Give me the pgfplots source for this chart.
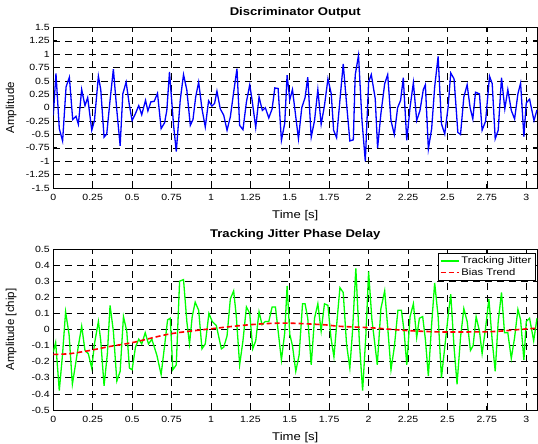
\documentclass[border=0pt]{standalone}
\usepackage{fontspec}
\setmainfont{Liberation Sans}[FakeStretch=1.17]
\newfontfamily\ylabfont{Liberation Sans}
\usepackage{pgfplots}
\pgfplotsset{compat=1.18}
\definecolor{mblue}{RGB}{0,0,255}
\definecolor{mgreen}{RGB}{0,255,0}
\definecolor{mred}{RGB}{255,0,0}
\pgfplotsset{
  mstyle/.style={
    scale only axis, width=484pt,
    xmin=0, xmax=3.07,
    xtick={0,0.25,0.5,0.75,1,1.25,1.5,1.75,2,2.25,2.5,2.75,3},
    xticklabels={0,0.25,0.5,0.75,1,1.25,1.5,1.75,2,2.25,2.5,2.75,3},
    tick align=inside, major tick length=4pt,
    xmajorgrids, ymajorgrids,
    grid style={black, line width=0.65pt, dash pattern=on 7pt off 5pt},
    axis line style={black, line width=0.9pt},
    every tick/.style={black, line width=0.8pt},
    /pgf/number format/assume math mode=true,
    ticklabel style={font=\fontsize{9}{10}\selectfont},
    xticklabel style={yshift=-3pt},
    title style={at={(axis description cs:0.5,1)}, anchor=base, yshift=6pt, font=\bfseries\fontsize{11.2}{13}\selectfont},
    every axis x label/.style={at={(axis description cs:0.5,0)}, anchor=center, yshift=-27.5pt, font=\fontsize{11.2}{13}\selectfont},
    every axis y label/.style={at={(axis description cs:-0.087,0.5)}, rotate=90, anchor=center, font=\ylabfont\fontsize{11.5}{13}\selectfont},
    xlabel={Time [s]},
  }
}
\begin{document}
\begin{tikzpicture}
\begin{axis}[mstyle, at={(0,0)}, anchor=south west, height=160.5pt,
  ymin=-1.5, ymax=1.5,
  ytick={-1.5,-1.25,-1,-0.75,-0.5,-0.25,0,0.25,0.5,0.75,1,1.25,1.5},
  yticklabels={-1.5,-1.25,-1,-0.75,-0.5,-0.25,0,0.25,0.5,0.75,1,1.25,1.5},
  title={Discriminator Output}, ylabel={Amplitude}]
\addplot[mblue, line width=1.3pt] coordinates {
(0.000,-0.14) (0.017,0.64) (0.038,-0.39) (0.059,-0.62) (0.081,0.39) (0.102,0.57)
(0.123,-0.22) (0.144,-0.16) (0.159,-0.31) (0.180,0.34) (0.201,0.04) (0.218,0.19)
(0.244,-0.42) (0.261,-0.24) (0.286,0.59) (0.301,0.34) (0.322,-0.55) (0.339,-0.49)
(0.360,0.14) (0.381,0.72) (0.403,-0.05) (0.424,-0.71) (0.441,0.26) (0.462,0.48)
(0.483,0.04) (0.500,-0.24) (0.521,-0.11) (0.542,0.04) (0.561,-0.13) (0.585,0.14)
(0.600,-0.06) (0.619,0.11) (0.640,0.12) (0.661,0.27) (0.684,-0.39) (0.706,-0.28)
(0.720,-0.05) (0.737,0.67) (0.763,-0.33) (0.780,-0.82) (0.805,0.14) (0.826,0.62)
(0.847,0.33) (0.869,-0.33) (0.886,-0.22) (0.903,0.20) (0.922,0.48) (0.943,-0.02)
(0.964,-0.36) (0.985,0.13) (1.006,0.03) (1.023,0.08) (1.038,0.31) (1.059,-0.02)
(1.081,-0.14) (1.102,-0.42) (1.123,-0.17) (1.144,0.29) (1.165,0.73) (1.182,-0.33)
(1.203,-0.41) (1.225,0.11) (1.246,0.43) (1.261,0.14) (1.284,-0.37) (1.305,0.20)
(1.326,-0.05) (1.345,0.00) (1.367,-0.19) (1.388,-0.02) (1.405,0.37) (1.426,0.36)
(1.447,-0.61) (1.468,-0.29) (1.483,0.61) (1.500,0.15) (1.517,0.34) (1.555,-0.58)
(1.576,0.00) (1.597,0.19) (1.614,0.57) (1.636,-0.55) (1.657,-0.24) (1.678,0.34)
(1.699,-0.31) (1.720,0.04) (1.742,0.54) (1.763,0.26) (1.778,-0.42) (1.797,-0.56)
(1.818,0.14) (1.839,0.82) (1.860,0.08) (1.881,-0.62) (1.903,-0.60) (1.915,0.61)
(1.936,0.98) (1.958,-0.24) (1.979,-1.00) (2.000,0.48) (2.017,0.62) (2.042,0.17)
(2.057,-0.75) (2.078,-0.11) (2.102,0.45) (2.121,0.62) (2.142,-0.24) (2.163,-0.50)
(2.184,0.00) (2.203,0.14) (2.220,0.56) (2.242,-0.61) (2.263,0.01) (2.284,0.47)
(2.305,-0.24) (2.326,-0.05) (2.347,0.34) (2.360,0.43) (2.379,-0.77) (2.400,-0.39)
(2.419,0.39) (2.441,0.96) (2.462,-0.30) (2.483,-0.49) (2.504,0.01) (2.521,0.65)
(2.542,0.54) (2.566,-0.46) (2.583,-0.50) (2.604,0.20) (2.625,0.43) (2.644,0.00)
(2.661,-0.21) (2.678,0.29) (2.703,0.26) (2.720,-0.42) (2.742,-0.25) (2.767,0.59)
(2.784,0.45) (2.803,-0.58) (2.822,-0.42) (2.843,0.56) (2.864,-0.02) (2.883,0.34)
(2.905,-0.05) (2.926,-0.21) (2.947,0.26) (2.964,0.46) (2.985,-0.54) (3.000,0.09)
(3.021,0.16) (3.049,-0.24) (3.068,-0.04)
};
\end{axis}
\begin{axis}[mstyle, at={(0,-222pt)}, anchor=south west, height=161pt,
  ymin=-0.5, ymax=0.5,
  ytick={-0.5,-0.4,-0.3,-0.2,-0.1,0,0.1,0.2,0.3,0.4,0.5},
  yticklabels={-0.5,-0.4,-0.3,-0.2,-0.1,0,0.1,0.2,0.3,0.4,0.5},
  title={Tracking Jitter Phase Delay}, ylabel={Amplitude [chip]},
  legend style={at={(rel axis cs:0.996,0.975)}, anchor=north east, draw=black, fill=white,
    line width=0.8pt, font=\fontsize{9.6}{11}\selectfont, inner sep=1.5pt, row sep=-1pt},
  legend cell align=left,
  legend entries={Tracking Jitter, Bias Trend}]
\addlegendimage{legend image code/.code={\draw[draw=mgreen, line width=1.4pt] (0pt,0pt) -- (18pt,0pt);}}
\addlegendimage{legend image code/.code={\draw[draw=mred, line width=1.6pt, dash pattern=on 5pt off 3pt] (0pt,0pt) -- (18pt,0pt);}}
\addplot[mgreen, line width=1.3pt, forget plot] coordinates {
(0.000,-0.14) (0.015,-0.08) (0.038,-0.38) (0.059,-0.15) (0.078,0.11) (0.100,-0.03)
(0.121,-0.34) (0.142,-0.21) (0.161,-0.09) (0.180,0.02) (0.201,-0.13) (0.222,-0.15)
(0.244,-0.24) (0.261,-0.09) (0.286,0.05) (0.301,-0.07) (0.322,-0.35) (0.343,-0.15)
(0.360,0.15) (0.381,-0.01) (0.403,-0.32) (0.424,-0.26) (0.445,0.08) (0.466,-0.01)
(0.483,-0.24) (0.500,-0.25) (0.521,-0.11) (0.542,-0.06) (0.561,-0.09) (0.583,-0.02)
(0.604,-0.09) (0.625,-0.06) (0.657,-0.16) (0.684,-0.28) (0.706,-0.10) (0.725,0.06)
(0.742,0.07) (0.758,-0.25) (0.780,-0.22) (0.801,0.30) (0.826,0.31) (0.847,0.05)
(0.864,-0.09) (0.881,0.08) (0.900,0.17) (0.922,0.12) (0.943,-0.12) (0.964,-0.09)
(0.987,0.10) (1.008,0.05) (1.034,0.025) (1.066,-0.12) (1.081,-0.11) (1.102,-0.04)
(1.123,0.19) (1.144,0.24) (1.161,0.08) (1.182,-0.22) (1.203,-0.07) (1.225,0.14)
(1.246,0.10) (1.265,-0.12) (1.284,-0.07) (1.305,0.11) (1.324,0.03) (1.345,0.05)
(1.367,0.05) (1.388,0.14) (1.409,0.14) (1.447,-0.19) (1.468,-0.02) (1.483,0.27)
(1.500,-0.03) (1.517,-0.10) (1.538,-0.26) (1.559,-0.16) (1.581,0.16) (1.597,0.16)
(1.614,0.07) (1.636,-0.22) (1.657,0.07) (1.678,0.16) (1.699,-0.01) (1.720,0.16)
(1.742,0.15) (1.761,-0.05) (1.780,-0.17) (1.801,0.07) (1.818,0.26) (1.839,0.23)
(1.860,-0.09) (1.881,-0.24) (1.898,-0.01) (1.919,0.38) (1.941,-0.07) (1.962,-0.38)
(1.983,-0.03) (2.000,0.36) (2.021,0.06) (2.042,-0.11) (2.055,-0.22) (2.078,0.13)
(2.102,0.24) (2.123,-0.01) (2.142,-0.25) (2.163,-0.11) (2.186,0.12) (2.208,0.12)
(2.225,-0.01) (2.242,-0.22) (2.263,0.08) (2.284,0.16) (2.305,-0.05) (2.322,0.07)
(2.343,0.08) (2.360,-0.06) (2.379,-0.29) (2.400,0.035) (2.419,0.29) (2.441,0.08)
(2.462,-0.30) (2.483,-0.11) (2.504,0.08) (2.521,0.22) (2.542,-0.11) (2.561,-0.34)
(2.583,-0.05) (2.604,0.13) (2.625,0.05) (2.646,-0.13) (2.663,-0.10) (2.682,0.08)
(2.703,-0.01) (2.720,-0.15) (2.742,0.01) (2.763,0.19) (2.784,-0.07) (2.803,-0.26)
(2.822,0.05) (2.843,0.23) (2.862,-0.02) (2.883,-0.02) (2.905,-0.18) (2.926,-0.05)
(2.947,0.125) (2.964,0.06) (2.985,-0.19) (3.000,0.05) (3.021,0.07) (3.047,-0.07)
(3.068,0.07)
};
\addplot[mred, line width=1.6pt, dash pattern=on 5pt off 3pt, smooth, forget plot] coordinates {
(0.000,-0.155) (0.106,-0.150) (0.233,-0.130) (0.360,-0.105) (0.508,-0.080)
(0.742,-0.027) (1.006,0.005) (1.250,0.030) (1.462,0.040) (1.708,0.030)
(1.814,0.020) (2.025,0.010) (2.237,-0.006) (2.449,-0.015) (2.661,-0.015)
(2.809,-0.012) (2.979,0.002) (3.068,0.008)
};
\end{axis}
\pgfresetboundingbox
\path[use as bounding box] (-53.3pt,-256pt) rectangle (484.7pt,188pt);
\end{tikzpicture}
\end{document}
